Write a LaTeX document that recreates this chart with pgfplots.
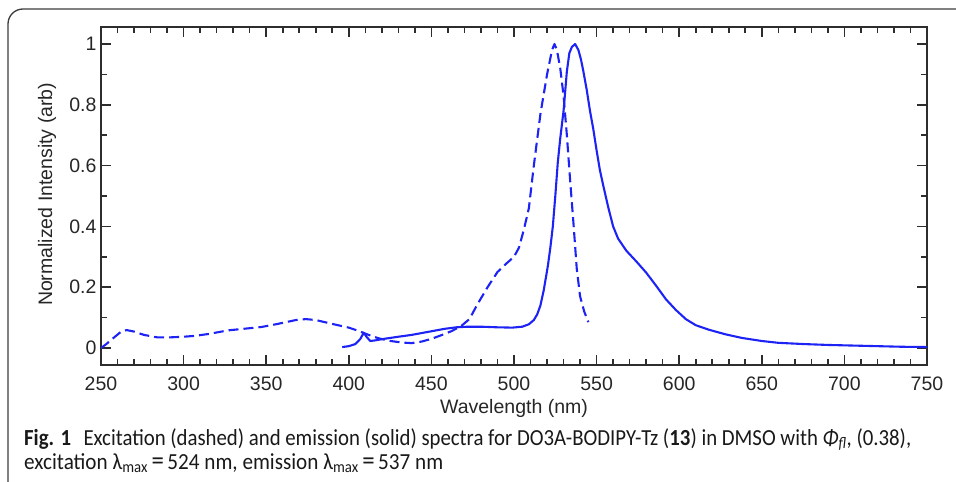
\documentclass[border=0pt]{standalone}
\usepackage{fontspec}
\setmainfont{Liberation Sans}
\newfontfamily\capfont{Carlito}
\usepackage{pgfplots}
\pgfplotsset{compat=1.18}
\definecolor{spec}{RGB}{30,35,245}
\definecolor{axc}{RGB}{45,45,45}
\definecolor{framec}{RGB}{60,60,60}

\begin{document}
\begin{tikzpicture}
\useasboundingbox (0pt,0pt) rectangle (956pt,-482pt);
\draw[framec, line width=1.3pt] (8pt,-490pt) -- (8pt,-24pt) arc[start angle=180, end angle=90, radius=15pt] -- (965pt,-9pt);
\begin{axis}[
  at={(101pt,-365pt)}, anchor=south west,
  scale only axis, width=826pt, height=338pt,
  xmin=250, xmax=750, ymin=-0.056, ymax=1.056,
  xtick={250,300,350,400,450,500,550,600,650,700,750},
  minor x tick num=4,
  ytick={0,0.2,0.4,0.6,0.8,1},
  minor y tick num=1,
  tick align=inside,
  major tick length=10pt, minor tick length=6pt,
  axis line style={axc, line width=1.8pt},
  tick style={axc, line width=1.6pt},
  /pgf/number format/assume math mode=true,
  xticklabel style={font=\fontsize{19.5}{22}\selectfont, text=black!85, anchor=base, yshift=-25pt},
  yticklabel style={font=\fontsize{19.5}{22}\selectfont, text=black!85, xshift=-1pt},
  xlabel={\fontsize{19.5}{22}\selectfont Wavelength (nm)},
  ylabel={\fontsize{19.5}{22}\selectfont Normalized Intensity (arb)},
  xlabel style={at={(axis description cs:0.5,-0.142)}, anchor=base, text=black!85},
  ylabel style={at={(axis description cs:-0.0593,0.505)}, anchor=base, text=black!85},
]
% Excitation (dashed)
\addplot[spec, line width=2.1pt, line join=round, no markers, dash pattern=on 10pt off 5pt] coordinates {
(250,0.0) (253,0.012) (258,0.035) (262,0.053) (265.5,0.059) (270,0.054) (276,0.043)
(284,0.035) (292,0.035) (300,0.037) (307,0.040) (315,0.046) (327,0.058) (338,0.064)
(347,0.069) (355,0.077) (362,0.085) (368,0.092) (374,0.095) (380,0.092) (387,0.083)
(395,0.073) (400,0.067) (406,0.056) (412,0.043) (418,0.032) (424,0.024) (432,0.018)
(438,0.016) (444,0.021) (450,0.030) (456,0.042) (462,0.055) (468,0.072) (473,0.095)
(478,0.145) (484,0.20) (490,0.25) (495,0.276) (500,0.30) (503,0.33) (506,0.39)
(509,0.46) (512,0.60) (516,0.77) (520,0.90) (523,0.98) (524.5,1.0) (526,0.98)
(528,0.92) (530,0.83) (532,0.70) (534,0.55) (536,0.41) (538,0.26) (540,0.17)
(542.5,0.12) (545,0.085)
};
% Emission (solid)
\addplot[spec, line width=2.1pt, line join=round, no markers] coordinates {
(396,0.003) (400,0.006) (404,0.013) (407,0.03) (409,0.05) (411,0.035) (413,0.023)
(416,0.025) (420,0.029) (425,0.033) (430,0.037) (438,0.043) (445,0.05) (450,0.055)
(458,0.063) (465,0.068) (472,0.07) (480,0.07) (490,0.068) (499,0.067) (505,0.07)
(509,0.078) (512,0.092) (514,0.11) (516,0.14) (518,0.19) (520.5,0.27) (522,0.33)
(523.5,0.40) (525,0.50) (526.5,0.61) (528,0.69) (530,0.78) (532,0.91) (533.5,0.97)
(535,0.99) (537,1.0) (539,0.98) (540.5,0.95) (542,0.91) (544,0.85) (546,0.78)
(548,0.72) (550,0.65) (552,0.585) (554,0.535) (557,0.464) (560,0.40) (563,0.36)
(568,0.32) (574,0.285) (580,0.248) (586,0.205) (592,0.16) (598,0.125) (604,0.095)
(610,0.075) (618,0.06) (628,0.045) (638,0.033) (650,0.023) (660,0.017) (675,0.013)
(690,0.01) (705,0.008) (720,0.006) (735,0.004) (750,0.003)
};
\end{axis}
\node[anchor=base west, inner sep=0pt, font=\capfont\fontsize{23}{24}\selectfont, text=black!90] at (24pt,-445pt)
  {\resizebox{887pt}{\height}{\textbf{Fig. 1}\hspace{0.6em}Excitation (dashed) and emission (solid) spectra for DO3A-BODIPY-Tz (\textbf{13}) in DMSO with \textit{Φ}\textsubscript{\textit{fl}}, (0.38),}};
\node[anchor=base west, inner sep=0pt, font=\capfont\fontsize{23}{24}\selectfont, text=black!90] at (24pt,-469pt)
  {\resizebox{419pt}{\height}{excitation λ\textsubscript{max}\,{\fontsize{27}{27}\selectfont =}\,524 nm, emission λ\textsubscript{max}\,{\fontsize{27}{27}\selectfont =}\,537 nm}};
\end{tikzpicture}
\end{document}
